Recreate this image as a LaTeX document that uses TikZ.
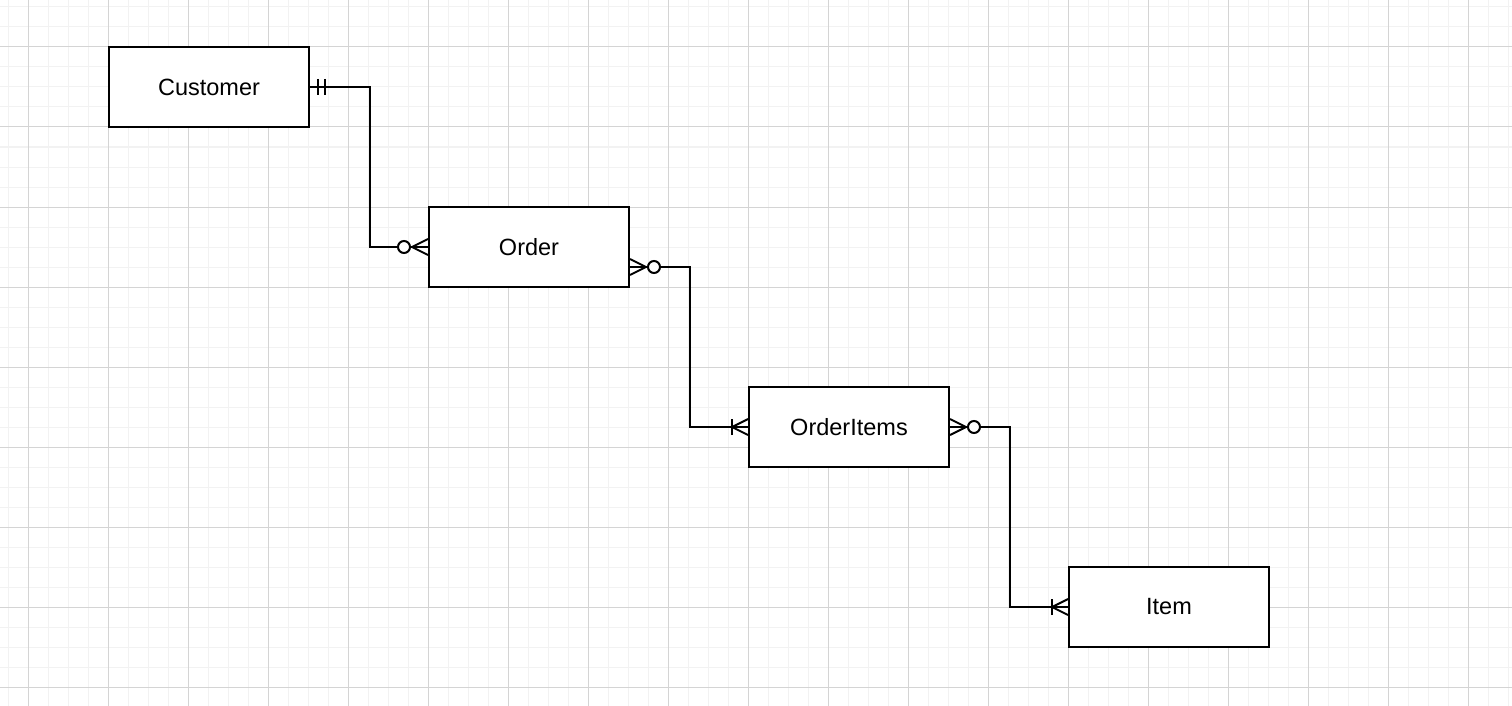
\documentclass[tikz,border=0pt]{standalone}
\usepackage{fontspec}
\setmainfont{Liberation Sans}
\usetikzlibrary{calc}
\definecolor{gminor}{RGB}{242,242,242}
\definecolor{gmajor}{RGB}{212,212,212}
\begin{document}
\begin{tikzpicture}[x=1pt,y=-1pt,
  entity/.style={draw, line width=2pt, minimum width=200pt, minimum height=80pt, fill=white, inner sep=0pt, font=\fontsize{23.5}{28}\selectfont},
  conn/.style={line width=2pt},
  minorline/.style={gminor, line width=1pt},
  majorline/.style={gmajor, line width=1pt},
  pics/zmany/.style={code={\draw[conn] (0,8)--(16,0)--(0,-8); \draw[conn,fill=white] (24,0) circle[radius=6pt];}},
  pics/omany/.style={code={\draw[conn] (0,8)--(16,0)--(0,-8); \draw[conn] (16,-8)--(16,8);}},
  pics/mone/.style={code={\draw[conn] (8,-8)--(8,8); \draw[conn] (15,-8)--(15,8);}}
]
\useasboundingbox (0,0) rectangle (1512,706);
\fill[white] (0,0) rectangle (1512,706);
\foreach \x in {8,28,...,1508} {\draw[minorline] (\x,0)--(\x,706);}
\foreach \y in {7,27,...,706} {\draw[minorline] (0,\y)--(1512,\y);}
\foreach \x in {28,108,...,1508} {\draw[majorline] (\x,0)--(\x,706);}
\foreach \y in {47,127,...,706} {\draw[majorline] (0,\y)--(1512,\y);}

\node[entity] (cust) at (209,87) {Customer};
\node[entity] (ord) at (529,247) {Order};
\node[entity] (oi) at (849,427) {OrderItems};
\node[entity] (item) at (1169,607) {Item};

\coordinate (oe) at ($(ord.east)+(0,20)$);
\draw[conn] (cust.east) -- ++(60,0) |- (ord.west);
\draw[conn] (oe) -- ++(60,0) |- (oi.west);
\draw[conn] (oi.east) -- ++(60,0) |- (item.west);

\pic at (cust.east) {mone};
\pic[rotate=180] at (ord.west) {zmany};
\pic at (oe) {zmany};
\pic[rotate=180] at (oi.west) {omany};
\pic at (oi.east) {zmany};
\pic[rotate=180] at (item.west) {omany};
\end{tikzpicture}
\end{document}
